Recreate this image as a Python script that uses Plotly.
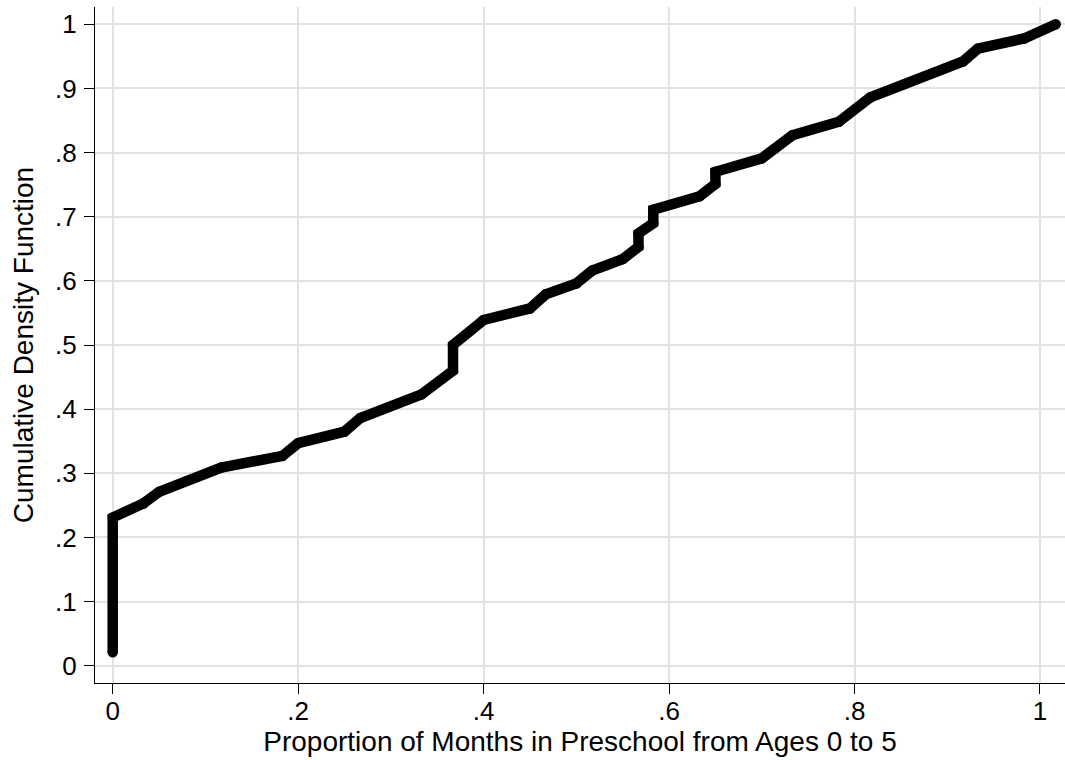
import plotly.graph_objects as go

share_months = [0.0, 0.0, 0.033, 0.050, 0.117, 0.183, 0.200, 0.250, 0.267, 0.333,
                0.367, 0.367, 0.400, 0.450, 0.467, 0.500, 0.517, 0.550, 0.567, 0.567,
                0.583, 0.583, 0.633, 0.650, 0.650, 0.700, 0.733, 0.783, 0.817, 0.917,
                0.933, 0.983, 1.017]
cdf_values = [0.021, 0.231, 0.253, 0.271, 0.309, 0.327, 0.347, 0.365, 0.386, 0.423,
              0.460, 0.500, 0.539, 0.557, 0.579, 0.596, 0.616, 0.634, 0.653, 0.674,
              0.690, 0.711, 0.732, 0.751, 0.770, 0.791, 0.827, 0.848, 0.886, 0.942,
              0.962, 0.978, 1.000]

x_tickvals = [0, 0.2, 0.4, 0.6, 0.8, 1.0]
x_ticktext = ["0", ".2", ".4", ".6", ".8", "1"]
y_tickvals = [0, 0.1, 0.2, 0.3, 0.4, 0.5, 0.6, 0.7, 0.8, 0.9, 1.0]
y_ticktext = ["0", ".1", ".2", ".3", ".4", ".5", ".6", ".7", ".8", ".9", "1"]

x_title = "Proportion of Months in Preschool from Ages 0 to 5"
y_title = "Cumulative Density Function"

FONT = "Liberation Sans, Arial, Helvetica, sans-serif"

fig = go.Figure()
fig.add_trace(go.Scatter(
    x=share_months, y=cdf_values, mode="lines+markers",
    line=dict(color="black", width=10.5),
    marker=dict(color="black", size=10.5, line=dict(width=0)),
    hoverinfo="x+y", showlegend=False,
))

axis_common = dict(
    showline=True, linecolor="black", linewidth=1,
    ticks="outside", ticklen=10, tickwidth=1, tickcolor="black",
    showgrid=True, gridcolor="#e2e2e2", gridwidth=2,
    zeroline=False, mirror=False,
    tickfont=dict(family=FONT, size=26, color="black"),
)

fig.update_layout(
    width=1065, height=760,
    margin=dict(l=95, r=0, t=7, b=77),
    paper_bgcolor="white", plot_bgcolor="white",
    font=dict(family=FONT, color="black"),
    xaxis=dict(range=[-0.0191, 1.027], tickvals=x_tickvals, ticktext=x_ticktext,
               title=dict(text=x_title, font=dict(family=FONT, size=28, color="black"), standoff=0),
               ticklabelstandoff=-5, **axis_common),
    yaxis=dict(range=[-0.027, 1.027], tickvals=y_tickvals, ticktext=y_ticktext,
               title=dict(text=y_title, font=dict(family=FONT, size=28, color="black"), standoff=13),
               ticklabelstandoff=2, **axis_common),
)

fig.write_html("out.html")
